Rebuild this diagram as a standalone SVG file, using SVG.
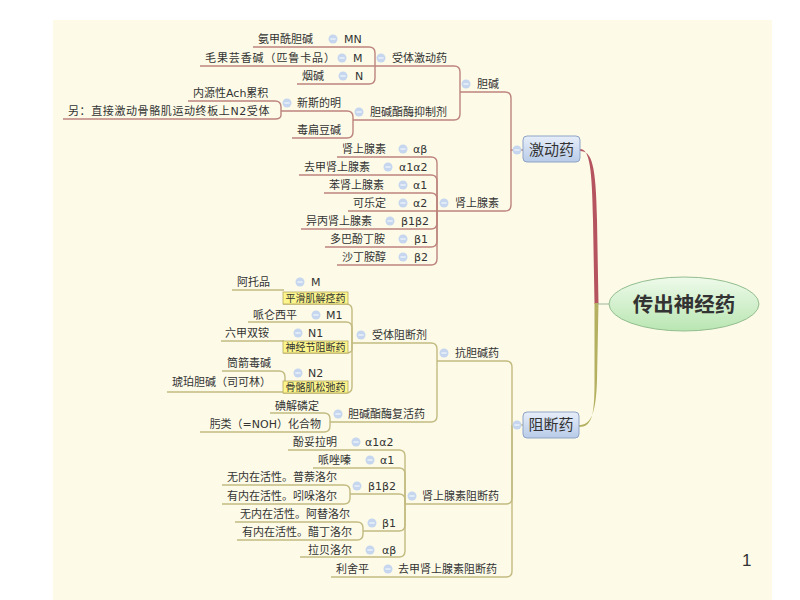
<svg xmlns="http://www.w3.org/2000/svg" xmlns:xlink="http://www.w3.org/1999/xlink" width="800" height="600" viewBox="0 0 800 600">
<style>
.t{font-family:"DejaVu Sans","Noto Sans CJK SC",sans-serif;font-size:11px;fill:#333}
.b{font-family:"Noto Sans CJK SC",sans-serif;font-size:15px;fill:#333;text-anchor:middle}
.lb{font-family:"Noto Sans CJK SC",sans-serif;font-size:10px;fill:#333;text-anchor:middle}
.u{fill:none;stroke:#bd847d;stroke-width:1.4}
.l{fill:none;stroke:#c2ba80;stroke-width:1.4}
.box{stroke:#8ea3c6;stroke-width:1;fill:url(#bg)}
.lbl{fill:#fbf58c;stroke:#b9ab62;stroke-width:0.8}
</style>
<defs>
<linearGradient id="bg" x1="0" y1="0" x2="0" y2="1"><stop offset="0" stop-color="#e7eef9"/><stop offset="1" stop-color="#b8cbe8"/></linearGradient>
<linearGradient id="gg" x1="0" y1="0" x2="0" y2="1"><stop offset="0" stop-color="#eefaea"/><stop offset="1" stop-color="#b9e6b2"/></linearGradient>
<g id="col"><circle r="4.5" fill="#c6d6ee"/><rect x="-2.6" y="-0.6" width="5.2" height="1.2" fill="#f4f8ff"/></g>
</defs>
<rect x="0" y="0" width="800" height="600" fill="#ffffff"/>
<rect x="53" y="20" width="719" height="580" fill="#fdfbe8"/>

<g id="connectors">
<!-- upper branch -->
<path class="u" d="M253,47 H369 Q375,47 375,53 V66"/>
<path class="u" d="M200,66 H375"/>
<path class="u" d="M297,84 H369 Q375,84 375,78 V66"/>
<path class="u" d="M375,66 H454 Q460,66 460,72 V92"/>
<path class="u" d="M188,101 H275 Q281,101 281,107 V111"/>
<path class="u" d="M63,119 H275 Q281,119 281,115 V111"/>
<path class="u" d="M281,111 H347 Q353,111 353,117 V120"/>
<path class="u" d="M292,138 H347 Q353,138 353,132 V120"/>
<path class="u" d="M353,120 H454 Q460,120 460,114 V92"/>
<path class="u" d="M460,92 H505 Q511,92 511,98 V150 H523"/>
<path class="u" d="M337,157 H431 Q437,157 437,163 V211"/>
<path class="u" d="M299,175 H431 Q437,175 437,181 V211"/>
<path class="u" d="M324,193 H431 Q437,193 437,199 V211"/>
<path class="u" d="M348,211 H437"/>
<path class="u" d="M301,229 H431 Q437,229 437,223 V211"/>
<path class="u" d="M325,247 H431 Q437,247 437,241 V211"/>
<path class="u" d="M337,265 H431 Q437,265 437,259 V211"/>
<path class="u" d="M437,211 H505 Q511,211 511,205 V150"/>
<!-- trunk -->
<path d="M580,149 C590,149 592,170 593,220 L594.5,304 L598.5,304 L597,220 C596,165 592,151 580,151 Z" fill="#b5545f"/>
<path d="M598.5,303 L597,380 C596,416 590,425 579,425 L579,427 C592,427 594.5,416 594.5,380 L594.5,303 Z" fill="#b4b060"/>
<path d="M597,304 H610" stroke="#9fb59a" stroke-width="1" fill="none"/>
<!-- lower branch -->
<path class="l" d="M512,425 H523"/>
<path class="l" d="M437,361 H506 Q512,361 512,367 V425"/>
<path class="l" d="M405,504 H506 Q512,504 512,498 V425"/>
<path class="l" d="M331,577 H506 Q512,577 512,571 V425"/>
<path class="l" d="M352,343 H431 Q437,343 437,349 V361"/>
<path class="l" d="M330,422 H431 Q437,422 437,416 V361"/>
<path class="l" d="M283,304 H346 Q352,304 352,310 V343"/>
<path class="l" d="M248,322 H346 Q352,322 352,328 V343"/>
<path class="l" d="M283,353 H346 Q352,353 352,349 V343"/>
<path class="l" d="M283,393 H346 Q352,393 352,387 V343"/>
<path class="l" d="M232,290 H284"/>
<path class="l" d="M221,341 H284"/>
<path class="l" d="M222,371 H279 Q285,371 285,377 V382"/>
<path class="l" d="M167,392 H284"/>
<path class="l" d="M270,413 H324 Q330,413 330,419 V422"/>
<path class="l" d="M200,432 H324 Q330,432 330,426 V422"/>
<path class="l" d="M288,450 H399 Q405,450 405,456 V504"/>
<path class="l" d="M313,468 H399 Q405,468 405,474 V504"/>
<path class="l" d="M350,494 H399 Q405,494 405,500 V504"/>
<path class="l" d="M363,531 H399 Q405,531 405,525 V504"/>
<path class="l" d="M300,557 H399 Q405,557 405,551 V504"/>
<path class="l" d="M222,485 H344 Q350,485 350,491 V494"/>
<path class="l" d="M222,504 H344 Q350,504 350,498 V494"/>
<path class="l" d="M235,522 H357 Q363,522 363,528 V531"/>
<path class="l" d="M237,540 H357 Q363,540 363,534 V531"/>
</g>

<g id="root">
<ellipse cx="684" cy="304" rx="75" ry="27" fill="url(#gg)" stroke="#93bd8e" stroke-width="1"/>
<text x="684" y="312" text-anchor="middle" font-family="Noto Sans CJK SC,sans-serif" font-size="20.5" font-weight="bold" fill="#333">传出神经药</text>
</g>

<g id="n-jdy"><rect class="box" x="523" y="136" width="57" height="26" rx="4"/><text class="b" x="551.5" y="155">激动药</text><use href="#col" x="517" y="150"/></g>
<g id="n-zdy"><rect class="box" x="523" y="412" width="56" height="26" rx="4"/><text class="b" x="551" y="430">阻断药</text><use href="#col" x="517" y="425"/></g>

<!-- upper -->
<g id="n-dj"><text class="t" x="477" y="88">胆碱</text><use href="#col" x="466" y="84"/></g>
<g id="n-stjdy"><text class="t" x="392" y="62">受体激动药</text><use href="#col" x="381" y="58"/></g>
<g id="n-mn"><text class="t" x="344" y="43">MN</text><use href="#col" x="333" y="39"/></g>
<g id="n-ajxdj"><text class="t" x="258" y="43">氨甲酰胆碱</text></g>
<g id="n-m"><text class="t" x="353" y="62">M</text><use href="#col" x="342" y="58"/></g>
<g id="n-mgyxj"><text class="t" x="205" y="62" letter-spacing="0.9">毛果芸香碱（匹鲁卡品）</text></g>
<g id="n-n"><text class="t" x="355" y="80">N</text><use href="#col" x="343" y="76"/></g>
<g id="n-yj"><text class="t" x="302" y="80">烟碱</text></g>
<g id="n-djzmyzj"><text class="t" x="370" y="116">胆碱酯酶抑制剂</text><use href="#col" x="359" y="112"/></g>
<g id="n-xsdm"><text class="t" x="297" y="107">新斯的明</text><use href="#col" x="287" y="103"/></g>
<g id="n-nyx"><text class="t" x="193" y="97">内源性Ach累积</text></g>
<g id="n-ling"><text class="t" x="68" y="115" letter-spacing="0.6">另：直接激动骨骼肌运动终板上N2受体</text></g>
<g id="n-dbdj"><text class="t" x="297" y="134">毒扁豆碱</text></g>
<g id="n-sxxs"><text class="t" x="455" y="207">肾上腺素</text><use href="#col" x="444" y="203"/></g>
<g id="r1"><text class="t" x="342" y="153">肾上腺素</text><text class="t" x="413" y="153">αβ</text><use href="#col" x="403" y="149"/></g>
<g id="r2"><text class="t" x="304" y="171">去甲肾上腺素</text><text class="t" x="399" y="171">α1α2</text><use href="#col" x="388" y="167"/></g>
<g id="r3"><text class="t" x="329" y="189">苯肾上腺素</text><text class="t" x="413" y="189">α1</text><use href="#col" x="403" y="185"/></g>
<g id="r4"><text class="t" x="353" y="207">可乐定</text><text class="t" x="413" y="207">α2</text><use href="#col" x="403" y="203"/></g>
<g id="r5"><text class="t" x="306" y="225">异丙肾上腺素</text><text class="t" x="401" y="225">β1β2</text><use href="#col" x="390" y="221"/></g>
<g id="r6"><text class="t" x="330" y="243">多巴酚丁胺</text><text class="t" x="414" y="243">β1</text><use href="#col" x="403" y="239"/></g>
<g id="r7"><text class="t" x="342" y="261">沙丁胺醇</text><text class="t" x="414" y="261">β2</text><use href="#col" x="403" y="257"/></g>

<!-- lower -->
<g id="n-kdjy"><text class="t" x="455" y="357">抗胆碱药</text><use href="#col" x="444" y="353"/></g>
<g id="n-stzdj"><text class="t" x="372" y="339">受体阻断剂</text><use href="#col" x="361" y="335"/></g>
<g id="n-M"><text class="t" x="311" y="286">M</text><use href="#col" x="300" y="282"/><rect class="lbl" x="283" y="292" width="65" height="12"/><text class="lb" x="315.5" y="301.5">平滑肌解痉药</text></g>
<g id="n-atp"><text class="t" x="237" y="286">阿托品</text></g>
<g id="n-M1"><text class="t" x="326" y="319">M1</text><use href="#col" x="316" y="315"/></g>
<g id="n-plxp"><text class="t" x="253" y="319">哌仑西平</text></g>
<g id="n-N1"><text class="t" x="308" y="337">N1</text><use href="#col" x="298" y="333"/><rect class="lbl" x="283" y="341" width="65" height="12"/><text class="lb" x="315.5" y="350.5">神经节阻断药</text></g>
<g id="n-ljsa"><text class="t" x="225" y="337">六甲双铵</text></g>
<g id="n-N2"><text class="t" x="308" y="377">N2</text><use href="#col" x="298" y="373"/><rect class="lbl" x="283" y="381" width="65" height="12"/><text class="lb" x="315.5" y="390.5">骨骼肌松弛药</text></g>
<g id="n-tjdj"><text class="t" x="227" y="367">筒箭毒碱</text></g>
<g id="n-hpdj"><text class="t" x="172" y="386">琥珀胆碱（司可林）</text></g>
<g id="n-djzmfhy"><text class="t" x="348" y="418">胆碱酯酶复活药</text><use href="#col" x="338" y="414"/></g>
<g id="n-djld"><text class="t" x="275" y="410">碘解磷定</text></g>
<g id="n-wl"><text class="t" x="321" y="428" text-anchor="end">肟类（=NOH）化合物</text></g>
<g id="n-sxxszdy"><text class="t" x="422" y="500">肾上腺素阻断药</text><use href="#col" x="412" y="496"/></g>
<g id="s1"><text class="t" x="293" y="446">酚妥拉明</text><text class="t" x="365" y="446">α1α2</text><use href="#col" x="356" y="442"/></g>
<g id="s2"><text class="t" x="318" y="464">哌唑嗪</text><text class="t" x="380" y="464">α1</text><use href="#col" x="370" y="460"/></g>
<g id="s3"><text class="t" x="368" y="490">β1β2</text><use href="#col" x="357" y="486"/></g>
<g id="s3a"><text class="t" x="227" y="481">无内在活性。普萘洛尔</text></g>
<g id="s3b"><text class="t" x="227" y="500">有内在活性。吲哚洛尔</text></g>
<g id="s4"><text class="t" x="382" y="527">β1</text><use href="#col" x="372" y="523"/></g>
<g id="s4a"><text class="t" x="240" y="518">无内在活性。阿替洛尔</text></g>
<g id="s4b"><text class="t" x="242" y="536">有内在活性。醋丁洛尔</text></g>
<g id="s5"><text class="t" x="308" y="554">拉贝洛尔</text><text class="t" x="382" y="554">αβ</text><use href="#col" x="370" y="550"/></g>
<g id="n-qjzd"><text class="t" x="336" y="573">利舍平</text><text class="t" x="398" y="573">去甲肾上腺素阻断药</text><use href="#col" x="388" y="569"/></g>

<text x="742" y="566" font-family="Liberation Sans,sans-serif" font-size="17" fill="#333">1</text>
</svg>
